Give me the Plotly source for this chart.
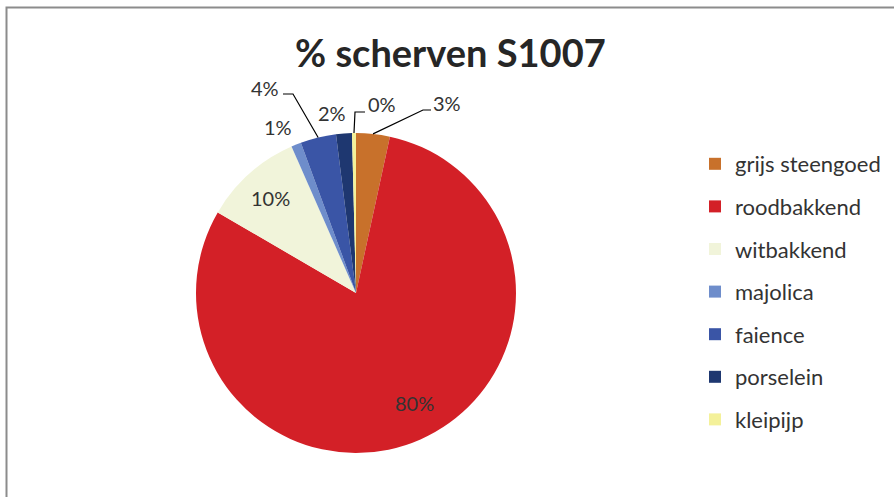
import math

import plotly.graph_objects as go

W, H = 894, 497

categories = ['grijs steengoed', 'roodbakkend', 'witbakkend', 'majolica',
              'faience', 'porselein', 'kleipijp']
percentages = [3.4, 80.0, 10.0, 1.0, 3.6, 1.6, 0.4]
colors = ['#C8712B', '#D32027', '#F1F4DA', '#6E8DCB', '#3A55A6',
          '#1E3770', '#F4F19A']

# pie placement in pixels (centre, radius)
CX, CY, R = 356, 293, 160
FONT = 'Lato'
TEXT_COLOR = '#333333'

# label placement: inside labels sit near the slice mid-angle
# (fraction of radius, angle nudge in degrees), outside labels have a
# text position and optional leader elbow (pixels)
INSIDE = {'roodbakkend': (0.78, -4), 'witbakkend': (0.80, 0)}
OUTSIDE = {
    'grijs steengoed': dict(text=(447, 103), elbow=[(423, 110), (431, 110)]),
    'majolica': dict(text=(278, 127)),
    'faience': dict(text=(265, 88), elbow=[(293, 94), (283, 94)]),
    'porselein': dict(text=(332, 113)),
    'kleipijp': dict(text=(382, 104), elbow=[(355, 112), (365, 112)]),
}


def px(x, y):
    return x / W, 1 - y / H


def rim_point(angle_deg, frac=1.0):
    a = math.radians(angle_deg)
    return CX + frac * R * math.sin(a), CY - frac * R * math.cos(a)


total = sum(percentages)
mid_angles = {}
start = 0.0
for cat, val in zip(categories, percentages):
    span = 360.0 * val / total
    mid_angles[cat] = start + span / 2
    start += span

x0, y0 = px(CX - R, CY + R)
x1, y1 = px(CX + R, CY - R)

fig = go.Figure()
fig.add_trace(go.Pie(
    labels=categories,
    values=percentages,
    sort=False,
    direction='clockwise',
    rotation=0,
    marker=dict(colors=colors, line=dict(width=0)),
    textinfo='none',
    hoverinfo='label+percent',
    showlegend=False,
    domain=dict(x=[x0, x1], y=[y0, y1]),
))

# legend entries (spaced like the original)
for cat, col in zip(categories, colors):
    fig.add_trace(go.Scatter(
        x=[None], y=[None], mode='markers', name=cat, legendgroup=cat,
        marker=dict(symbol='square', size=12, color=col),
    ))

annotations = []
shapes = []
for cat, val in zip(categories, percentages):
    label = '%d%%' % round(100.0 * val / total)
    if cat in INSIDE:
        frac, nudge = INSIDE[cat]
        tx, ty = rim_point(mid_angles[cat] + nudge, frac)
    else:
        cfg = OUTSIDE[cat]
        tx, ty = cfg['text']
        if 'elbow' in cfg:
            pts = [rim_point(mid_angles[cat])] + cfg['elbow']
            path = 'M ' + ' L '.join(
                '%f,%f' % px(x, y) for x, y in pts)
            shapes.append(dict(type='path', path=path, xref='paper',
                               yref='paper',
                               line=dict(color='#000000', width=1.2)))
    ax, ay = px(tx, ty)
    annotations.append(dict(
        text=label, x=ax, y=ay, xref='paper', yref='paper',
        showarrow=False, xanchor='center', yanchor='middle',
        font=dict(family=FONT, size=20, color=TEXT_COLOR),
    ))

annotations.append(dict(
    text='<b>% scherven S1007</b>', x=451 / W, y=1 - 52 / H,
    xref='paper', yref='paper', showarrow=False,
    xanchor='center', yanchor='middle',
    font=dict(family=FONT, size=38, color='#262626'),
))

# chart border
shapes.append(dict(type='rect', xref='paper', yref='paper',
                   x0=6.5 / W, x1=1.05, y0=-0.05, y1=1 - 7.5 / H,
                   line=dict(color='#8C8C8C', width=2)))

fig.update_layout(
    width=W,
    height=H,
    margin=dict(l=0, r=0, t=0, b=0),
    paper_bgcolor='white',
    plot_bgcolor='white',
    xaxis=dict(visible=False),
    yaxis=dict(visible=False),
    annotations=annotations,
    shapes=shapes,
    legend=dict(
        x=695 / W, y=1 - 143 / H, xanchor='left', yanchor='top',
        font=dict(family=FONT, size=22, color=TEXT_COLOR),
        tracegroupgap=11,
        itemclick=False,
        bgcolor='rgba(0,0,0,0)',
    ),
)

fig.write_html('out.html', config={'displayModeBar': False},
               post_script="document.body.style.margin='0';")
